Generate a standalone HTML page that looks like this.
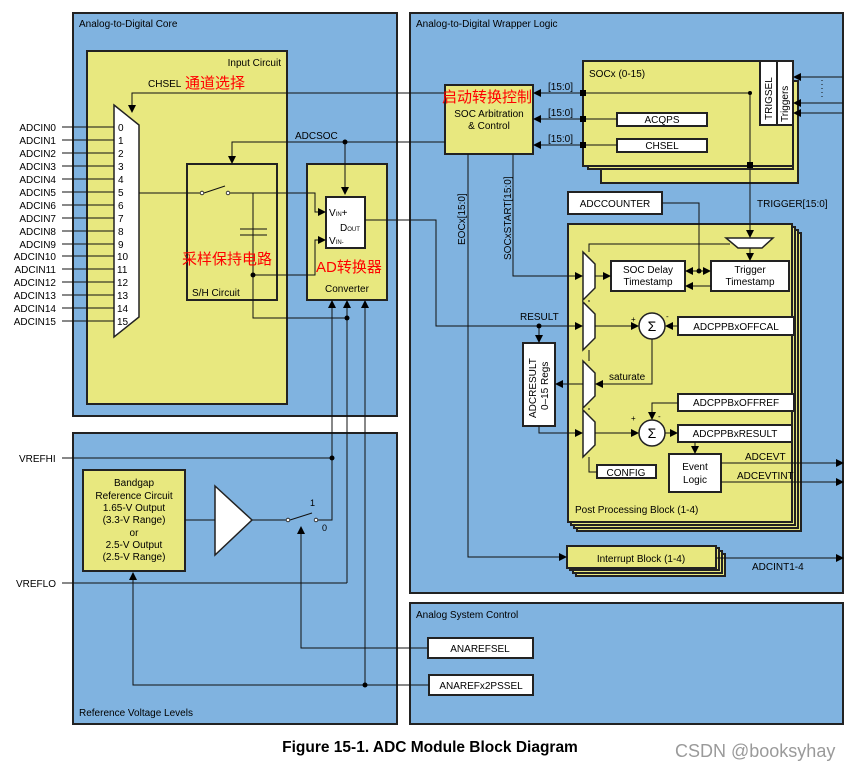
<!DOCTYPE html>
<html><head><meta charset="utf-8"><style>
body{margin:0;background:#fff}
svg{display:block;font-size:10px}
text{font-family:"Liberation Sans","Noto Sans CJK SC",sans-serif}
.cn{fill:#f00;font-size:15px}
</style></head><body>
<svg width="860" height="771" viewBox="0 0 860 771" xmlns="http://www.w3.org/2000/svg">
<defs>
<marker id="a" markerWidth="8" markerHeight="8" refX="7" refY="4" orient="auto" markerUnits="userSpaceOnUse"><path d="M0,0 L8,4 L0,8z" fill="#000"/></marker>
</defs>
<g stroke="#222" stroke-width="2">
<rect x="73" y="13" width="324" height="403" fill="#80b3e0"/>
<rect x="410" y="13" width="433" height="580" fill="#80b3e0"/>
<rect x="73" y="433" width="324" height="291" fill="#80b3e0"/>
<rect x="410" y="603" width="433" height="121" fill="#80b3e0"/>
<rect x="87" y="51" width="200" height="353" fill="#e8e87f"/>
<rect x="187" y="164" width="90" height="136" fill="#e8e87f"/>
<rect x="307" y="164" width="80" height="136" fill="#e8e87f"/>
<rect x="326" y="197" width="39" height="51" fill="#fff"/>
<rect x="83" y="470" width="102" height="101" fill="#e8e87f"/>
<rect x="601" y="81" width="197" height="102" fill="#e8e87f"/>
<rect x="588" y="66" width="205" height="103" fill="#e8e87f"/>
<rect x="583" y="61" width="210" height="105" fill="#e8e87f"/>
<rect x="760" y="61" width="17" height="64" fill="#fff"/>
<rect x="777" y="61" width="16" height="64" fill="#fff"/>
<rect x="445" y="85" width="88" height="69" fill="#e8e87f"/>
<rect x="617" y="113" width="90" height="13" fill="#fff"/>
<rect x="617" y="139" width="90" height="13" fill="#fff"/>
<rect x="568" y="192" width="94" height="22" fill="#fff"/>
<rect x="577" y="233" width="224" height="298" fill="#e8e87f"/>
<rect x="574" y="230" width="224" height="298" fill="#e8e87f"/>
<rect x="571" y="227" width="224" height="298" fill="#e8e87f"/>
<rect x="568" y="224" width="224" height="298" fill="#e8e87f"/>
<rect x="611" y="261" width="74" height="30" fill="#fff"/>
<rect x="711" y="261" width="78" height="30" fill="#fff"/>
<rect x="678" y="317" width="116" height="18" fill="#fff"/>
<rect x="678" y="394" width="116" height="17" fill="#fff"/>
<rect x="678" y="425" width="114" height="17" fill="#fff"/>
<rect x="669" y="454" width="52" height="38" fill="#fff"/>
<rect x="597" y="465" width="59" height="13" fill="#fff"/>
<rect x="523" y="343" width="32" height="83" fill="#fff"/>
<rect x="576" y="554" width="149" height="22" fill="#e8e87f"/>
<rect x="573" y="551" width="149" height="22" fill="#e8e87f"/>
<rect x="570" y="548" width="149" height="22" fill="#e8e87f"/>
<rect x="567" y="546" width="149" height="22" fill="#e8e87f"/>
<rect x="428" y="638" width="105" height="20" fill="#fff"/>
<rect x="429" y="675" width="104" height="20" fill="#fff"/>
</g>
<g stroke="#222" stroke-width="1.5" fill="#fff">
<path d="M114,105 L139,125 L139,317 L114,337z"/>
<path d="M726,238 L773,238 L762,248 L738,248z"/>
<path d="M583,252 L595,264 L595,288 L583,300z"/>
<path d="M583,302 L595,314 L595,338 L583,350z"/>
<path d="M583,361 L595,373 L595,396 L583,408z"/>
<path d="M583,410 L595,422 L595,445 L583,457z"/>
<circle cx="652" cy="326" r="13"/>
<circle cx="652" cy="433" r="13"/>
<path d="M215,486 L252,520 L215,555z"/>
</g>
<g stroke="#111" stroke-width="1" fill="none">
<path d="M62,127H114M62,140H114M62,153H114M62,166H114M62,179H114M62,192H114M62,205H114M62,218H114M62,231H114M62,244H114M62,256H114M62,269H114M62,282H114M62,295H114M62,308H114M62,321H114"/>
<path d="M445,93H132V112" marker-end="url(#a)"/>
<path d="M445,142H232V163" marker-end="url(#a)"/>
<path d="M345,142V194" marker-end="url(#a)"/>
<path d="M139,193H200"/><path d="M204,193L225,186"/><path d="M230,193H315V212H325" marker-end="url(#a)"/>
<path d="M253,193V318H347"/>
<path d="M240,229H267M240,235H267"/>
<path d="M253,275H315V240H325" marker-end="url(#a)"/>
<path d="M365,220H436V326H582" marker-end="url(#a)"/>
<path d="M332,458V301" marker-end="url(#a)"/>
<path d="M347,583V301" marker-end="url(#a)"/>
<path d="M365,685V301" marker-end="url(#a)"/>
<path d="M62,458H332"/>
<path d="M62,583H347"/>
<path d="M185,520H215M252,520H286"/>
<path d="M290,520L312,513"/><path d="M318,520H332V458"/>
<path d="M428,648H301V527" marker-end="url(#a)"/>
<path d="M429,685H133V573" marker-end="url(#a)"/>
<path d="M583,93H534" marker-end="url(#a)"/>
<path d="M617,119H534" marker-end="url(#a)"/>
<path d="M617,145H534" marker-end="url(#a)"/>
<path d="M583,93H750V237" marker-end="url(#a)"/>
<path d="M843,77H794" marker-end="url(#a)"/>
<path d="M843,103H794" marker-end="url(#a)"/>
<path d="M843,113H794" marker-end="url(#a)"/>
<path d="M822,80V98" stroke-dasharray="1,3"/>
<path d="M750,248V260" marker-end="url(#a)"/>
<path d="M730,244H589V252"/>
<path d="M662,203H699V271"/>
<path d="M699,271H686" marker-end="url(#a)"/><path d="M699,271H710" marker-end="url(#a)"/>
<path d="M711,286H686" marker-end="url(#a)"/>
<path d="M513,154V276H582" marker-end="url(#a)"/>
<path d="M595,276H610" marker-end="url(#a)"/>
<path d="M468,154V557H566" marker-end="url(#a)"/>
<path d="M539,326V342" marker-end="url(#a)"/>
<path d="M595,326H638" marker-end="url(#a)"/>
<path d="M678,326H666" marker-end="url(#a)"/>
<path d="M652,339V384H596" marker-end="url(#a)"/>
<path d="M583,384H556" marker-end="url(#a)"/>
<path d="M589,300V302M589,350V361M589,408V410M589,457V472H597"/>
<path d="M539,426V433H582" marker-end="url(#a)"/>
<path d="M595,433H638" marker-end="url(#a)"/>
<path d="M678,403H652V419" marker-end="url(#a)"/>
<path d="M665,433H677" marker-end="url(#a)"/>
<path d="M695,442V453" marker-end="url(#a)"/>
<path d="M721,463H843" marker-end="url(#a)"/>
<path d="M721,482H843" marker-end="url(#a)"/>
<path d="M716,558H843" marker-end="url(#a)"/>
</g>
<g fill="#000">
<circle cx="345" cy="142" r="2.5"/><circle cx="253" cy="275" r="2.5"/><circle cx="347" cy="318" r="2.5"/>
<circle cx="332" cy="458" r="2.5"/><circle cx="365" cy="685" r="2.5"/>
<circle cx="750" cy="93" r="2"/><rect x="747" y="162" width="6" height="6"/>
<rect x="580" y="90" width="6" height="6"/><rect x="580" y="116" width="6" height="6"/><rect x="580" y="142" width="6" height="6"/>
<circle cx="699" cy="271" r="2.5"/><circle cx="539" cy="326" r="2.5"/>
</g>
<g fill="#fff" stroke="#111" stroke-width="0.8"><circle cx="202" cy="193" r="1.8"/><circle cx="228" cy="193" r="1.8"/><circle cx="288" cy="520" r="1.8"/><circle cx="316" cy="520" r="1.8"/></g>
<text x="79" y="27">Analog-to-Digital Core</text>
<text x="416" y="27">Analog-to-Digital Wrapper Logic</text>
<text x="281" y="66" text-anchor="end">Input Circuit</text>
<text x="148" y="87">CHSEL</text>
<text x="185" y="88" class="cn">通道选择</text>
<text x="295" y="139">ADCSOC</text>
<g text-anchor="end">
<text x="56" y="131">ADCIN0</text><text x="56" y="144">ADCIN1</text><text x="56" y="157">ADCIN2</text><text x="56" y="170">ADCIN3</text><text x="56" y="183">ADCIN4</text><text x="56" y="196">ADCIN5</text><text x="56" y="209">ADCIN6</text><text x="56" y="222">ADCIN7</text><text x="56" y="235">ADCIN8</text><text x="56" y="248">ADCIN9</text><text x="56" y="260">ADCIN10</text><text x="56" y="273">ADCIN11</text><text x="56" y="286">ADCIN12</text><text x="56" y="299">ADCIN13</text><text x="56" y="312">ADCIN14</text><text x="56" y="325">ADCIN15</text>
</g>
<g><text x="118" y="131">0</text><text x="118" y="144">1</text><text x="118" y="157">2</text><text x="118" y="170">3</text><text x="118" y="183">4</text><text x="118" y="196">5</text><text x="118" y="209">6</text><text x="118" y="222">7</text><text x="118" y="235">8</text><text x="118" y="248">9</text><text x="117" y="260">10</text><text x="117" y="273">11</text><text x="117" y="286">12</text><text x="117" y="299">13</text><text x="117" y="312">14</text><text x="117" y="325">15</text></g>
<text x="182" y="264" class="cn">采样保持电路</text>
<text x="192" y="296">S/H Circuit</text>
<text x="316" y="272" class="cn">AD转换器</text>
<text x="325" y="292">Converter</text>
<text x="329" y="216">V<tspan font-size="6">IN</tspan>+</text>
<text x="340" y="231">D<tspan font-size="6">OUT</tspan></text>
<text x="329" y="244">V<tspan font-size="6">IN-</tspan></text>
<text x="19" y="462">VREFHI</text>
<text x="16" y="587">VREFLO</text>
<g text-anchor="middle"><text x="134" y="486">Bandgap</text><text x="134" y="499">Reference Circuit</text><text x="134" y="511">1.65-V Output</text><text x="134" y="523">(3.3-V Range)</text><text x="134" y="536">or</text><text x="134" y="548">2.5-V Output</text><text x="134" y="560">(2.5-V Range)</text>
<text x="480" y="652">ANAREFSEL</text><text x="481" y="689">ANAREFx2PSSEL</text></g>
<text x="310" y="506" font-size="9">1</text><text x="322" y="531" font-size="9">0</text>
<text x="79" y="716">Reference Voltage Levels</text>
<text x="416" y="618">Analog System Control</text>
<text x="442" y="102" class="cn">启动转换控制</text>
<g text-anchor="middle"><text x="489" y="117">SOC Arbitration</text><text x="489" y="129">&amp; Control</text>
<text x="662" y="123">ACQPS</text><text x="662" y="149">CHSEL</text><text x="615" y="207">ADCCOUNTER</text>
<text x="648" y="273">SOC Delay</text><text x="648" y="285">Timestamp</text><text x="750" y="273">Trigger</text><text x="750" y="285">Timestamp</text>
<text x="736" y="330">ADCPPBxOFFCAL</text><text x="736" y="406">ADCPPBxOFFREF</text><text x="735" y="437">ADCPPBxRESULT</text>
<text x="695" y="470">Event</text><text x="695" y="483">Logic</text><text x="626" y="476">CONFIG</text>
<text x="641" y="562">Interrupt Block (1-4)</text>
<text x="652" y="331" font-size="14">Σ</text><text x="652" y="438" font-size="14">Σ</text></g>
<text x="589" y="77">SOCx (0-15)</text>
<text x="548" y="90">[15:0]</text><text x="548" y="116">[15:0]</text><text x="548" y="142">[15:0]</text>
<text x="757" y="207">TRIGGER[15:0]</text>
<text x="520" y="320">RESULT</text>
<text x="609" y="380">saturate</text>
<text x="745" y="460">ADCEVT</text><text x="737" y="479">ADCEVTINT</text>
<text x="752" y="570">ADCINT1-4</text>
<text x="575" y="513">Post Processing Block (1-4)</text>
<text x="631" y="322" font-size="8">+</text><text x="666" y="319" font-size="8">-</text>
<text x="631" y="421" font-size="8">+</text><text x="658" y="419" font-size="8">-</text>
<text transform="translate(772,120) rotate(-90)">TRIGSEL</text>
<text transform="translate(788,122) rotate(-90)">Triggers</text>
<text transform="translate(465,245) rotate(-90)">EOCx[15:0]</text>
<text transform="translate(511,260) rotate(-90)">SOCxSTART[15:0]</text>
<text transform="translate(536,418) rotate(-90)">ADCRESULT</text>
<text transform="translate(548,410) rotate(-90)">0–15 Regs</text>
<text x="430" y="752" text-anchor="middle" font-size="15.5" font-weight="bold">Figure 15-1. ADC Module Block Diagram</text>
<text x="675" y="757" font-size="18" fill="#9a9a9a">CSDN @booksyhay</text>
</svg>
</body></html>
